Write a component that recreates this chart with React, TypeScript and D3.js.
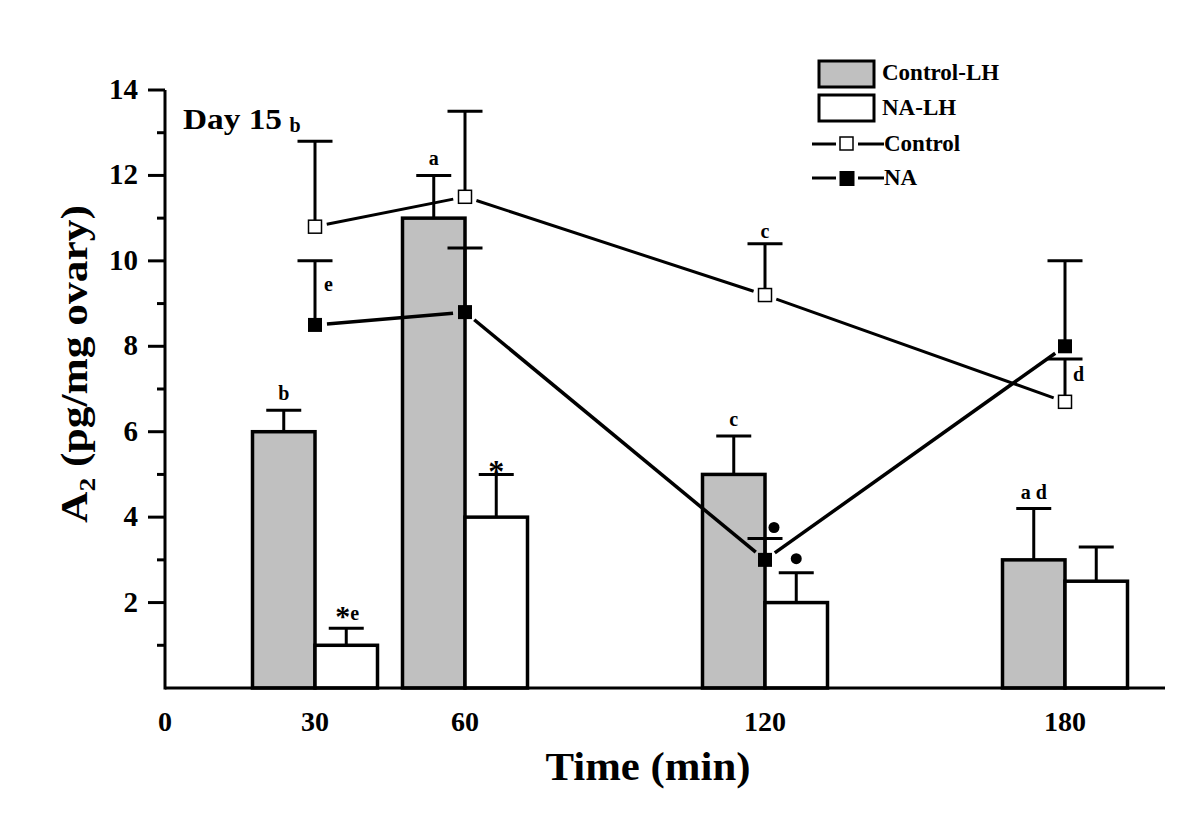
import React from "react";
import * as d3 from "d3";

const times = [30, 60, 120, 180];
const controlLH = [6.0, 11.0, 5.0, 3.0];
const controlLHErr = [0.5, 1.0, 0.9, 1.2];
const naLH = [1.0, 4.0, 2.0, 2.5];
const naLHErr = [0.4, 1.0, 0.7, 0.8];
const control = [10.8, 11.5, 9.2, 6.7];
const controlErr = [2.0, 2.0, 1.2, 1.0];
const na = [8.5, 8.8, 3.0, 8.0];
const naErr = [1.5, 1.5, 0.5, 2.0];
const yTicks = [2, 4, 6, 8, 10, 12, 14];
const yMinor = [1, 3, 5, 7, 9, 11, 13];
const xTicks = [0, 30, 60, 120, 180];
const controlLHLabels = ["b", "a", "c", "a d"];
const naLHLabels = ["*e", "*", "\u25CF", ""];

const FONT = "'Liberation Serif', 'Times New Roman', serif";

export default function App() {
  const x = d3.scaleLinear().domain([0, 200]).range([165, 1165]);
  const y = d3.scaleLinear().domain([0, 14]).range([688, 90]);
  const barW = x(12.5) - x(0);
  const capW = 35;
  const ms = 13;

  const segs = (vals: number[]) => {
    const out: { x1: number; y1: number; x2: number; y2: number }[] = [];
    for (let i = 0; i < vals.length - 1; i++) {
      const x1 = x(times[i]), y1 = y(vals[i]);
      const x2 = x(times[i + 1]), y2 = y(vals[i + 1]);
      const len = Math.hypot(x2 - x1, y2 - y1);
      const g = 12;
      const ux = (x2 - x1) / len, uy = (y2 - y1) / len;
      out.push({ x1: x1 + ux * g, y1: y1 + uy * g, x2: x2 - ux * g, y2: y2 - uy * g });
    }
    return out;
  };

  const errBar = (cx: number, v: number, e: number, key: string, sw = 3) => (
    <g key={key} stroke="#000" strokeWidth={sw}>
      <line x1={cx} x2={cx} y1={y(v)} y2={y(v + e)} />
      <line x1={cx - capW / 2} x2={cx + capW / 2} y1={y(v + e)} y2={y(v + e)} />
    </g>
  );

  const letter = { fontFamily: FONT, fontWeight: "bold", fontSize: 20, fill: "#000" } as const;

  return (
    <svg width={1200} height={840} style={{ position: "absolute", left: 0, top: 0, background: "#fff" }}>
      <rect x={0} y={0} width={1200} height={840} fill="#fff" />
      {/* bars */}
      {times.map((t, i) => (
        <g key={"b" + i}>
          {errBar(x(t) - barW / 2, controlLH[i], controlLHErr[i], "ce" + i)}
          {errBar(x(t) + barW / 2, naLH[i], naLHErr[i], "ne" + i)}
          <rect x={x(t) - barW} y={y(controlLH[i])} width={barW} height={y(0) - y(controlLH[i])}
            fill="#c0c0c0" stroke="#000" strokeWidth={3.5} />
          <rect x={x(t)} y={y(naLH[i])} width={barW} height={y(0) - y(naLH[i])}
            fill="#fff" stroke="#000" strokeWidth={3.5} />
        </g>
      ))}
      {/* bar labels */}
      {times.map((t, i) => (
        <text key={"cl" + i} x={x(t) - barW / 2} y={y(controlLH[i] + controlLHErr[i]) - 10}
          textAnchor="middle" style={letter}>{controlLHLabels[i]}</text>
      ))}
      <text x={x(30) + barW / 2 + 1} y={y(naLH[0] + naLHErr[0]) - 8} textAnchor="middle" style={letter}>
        <tspan fontSize={30} dy={6}>*</tspan><tspan fontSize={20} dy={-6}>e</tspan>
      </text>
      <text x={x(60) + barW / 2} y={y(naLH[1] + naLHErr[1]) + 8} textAnchor="middle"
        style={{ ...letter, fontSize: 32 }}>*</text>
      <circle cx={x(120) + barW / 2} cy={y(naLH[2] + naLHErr[2]) - 14} r={5.5} fill="#000" />

      {/* axes */}
      <g stroke="#000" strokeWidth={3}>
        <line x1={x(0)} x2={x(0)} y1={y(0) + 1.5} y2={y(14)} />
        <line x1={x(0)} x2={x(200)} y1={y(0)} y2={y(0)} />
        {yTicks.map((v) => (
          <line key={"yt" + v} x1={x(0) - 17} x2={x(0)} y1={y(v)} y2={y(v)} />
        ))}
        {yMinor.map((v) => (
          <line key={"ym" + v} x1={x(0) - 8} x2={x(0)} y1={y(v)} y2={y(v)} />
        ))}
      </g>
      {yTicks.map((v) => (
        <text key={"yl" + v} x={138} y={y(v) + 9} textAnchor="end"
          style={{ fontFamily: FONT, fontWeight: "bold", fontSize: 29 }}>{v}</text>
      ))}
      {xTicks.map((v) => (
        <text key={"xl" + v} x={x(v)} y={731} textAnchor="middle"
          style={{ fontFamily: FONT, fontWeight: "bold", fontSize: 28 }}>{v}</text>
      ))}
      <text x={648} y={780} textAnchor="middle" textLength={205} lengthAdjust="spacingAndGlyphs"
        style={{ fontFamily: FONT, fontWeight: "bold", fontSize: 40 }}>Time (min)</text>
      <text transform="translate(87,364) rotate(-90)" textAnchor="middle" textLength={318}
        lengthAdjust="spacingAndGlyphs" style={{ fontFamily: FONT, fontWeight: "bold", fontSize: 38 }}>
        A<tspan fontSize={24} dy={8}>2</tspan><tspan dy={-8}> (pg/mg ovary)</tspan>
      </text>

      {/* line series */}
      {times.map((t, i) => errBar(x(t), control[i], controlErr[i], "lce" + i))}
      {times.map((t, i) => errBar(x(t), na[i], naErr[i], "lne" + i))}
      {segs(control).map((s, i) => (
        <line key={"cs" + i} {...s} stroke="#000" strokeWidth={3} />
      ))}
      {segs(na).map((s, i) => (
        <line key={"ns" + i} {...s} stroke="#000" strokeWidth={3.5} />
      ))}
      {times.map((t, i) => (
        <rect key={"cm" + i} x={x(t) - ms / 2} y={y(control[i]) - ms / 2} width={ms} height={ms}
          fill="#fff" stroke="#000" strokeWidth={1.5} />
      ))}
      {times.map((t, i) => (
        <rect key={"nm" + i} x={x(t) - 7} y={y(na[i]) - 7} width={14} height={14} fill="#000" />
      ))}
      {/* line labels */}
      <text x={x(30) - 20} y={y(control[0] + controlErr[0]) - 9} textAnchor="middle" style={letter}>b</text>
      <text x={x(30) + 9} y={y(na[0] + 0.8)} style={letter}>e</text>
      <text x={x(120)} y={y(control[2] + controlErr[2]) - 6} textAnchor="middle" style={letter}>c</text>
      <text x={x(180) + 8} y={y(control[3] + controlErr[3]) - 8 + 30} style={letter}>d</text>
      <circle cx={x(120) + 9} cy={y(na[2] + naErr[2]) - 11} r={5.5} fill="#000" />

      <text x={183} y={129} textLength={99} lengthAdjust="spacingAndGlyphs"
        style={{ fontFamily: FONT, fontWeight: "bold", fontSize: 30 }}>Day 15</text>

      {/* legend */}
      <rect x={819} y={61} width={55} height={26} fill="#c0c0c0" stroke="#000" strokeWidth={3} />
      <rect x={819} y={95} width={55} height={26} fill="#fff" stroke="#000" strokeWidth={3} />
      <text x={882} y={80} style={{ fontFamily: FONT, fontWeight: "bold", fontSize: 23 }}>Control-LH</text>
      <text x={882} y={115} style={{ fontFamily: FONT, fontWeight: "bold", fontSize: 23 }}>NA-LH</text>
      <g stroke="#000" strokeWidth={3}>
        <line x1={812} x2={836} y1={144} y2={144} />
        <line x1={858} x2={884} y1={144} y2={144} />
        <line x1={812} x2={836} y1={178} y2={178} />
        <line x1={858} x2={884} y1={178} y2={178} />
      </g>
      <rect x={840} y={137} width={13} height={13} fill="#fff" stroke="#000" strokeWidth={1.5} />
      <rect x={839.5} y={171} width={15} height={15} fill="#000" />
      <text x={884} y={151} style={{ fontFamily: FONT, fontWeight: "bold", fontSize: 23 }}>Control</text>
      <text x={884} y={185} style={{ fontFamily: FONT, fontWeight: "bold", fontSize: 23 }}>NA</text>
    </svg>
  );
}
